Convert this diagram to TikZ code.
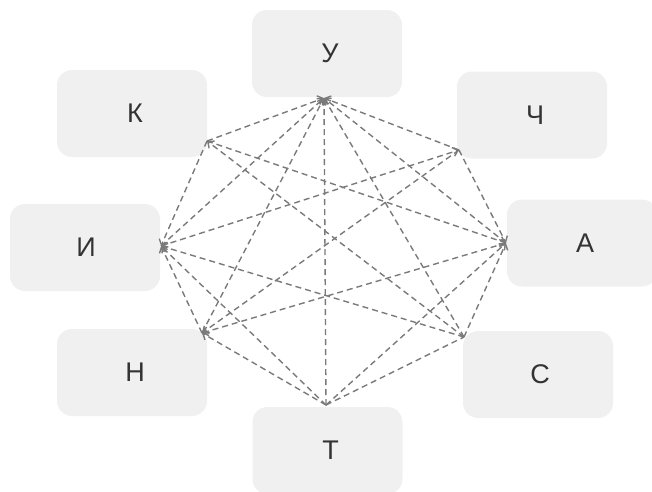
\documentclass[tikz,border=0pt]{standalone}
\usepackage{fontspec}
\setmainfont{Liberation Sans}
\usetikzlibrary{arrows.meta}
\definecolor{boxfill}{HTML}{F0F0F0}
\definecolor{edgecol}{HTML}{7A7A7A}
\definecolor{txt}{HTML}{333333}
\begin{document}
\begin{tikzpicture}[x=1pt,y=-1pt,
  box/.style={fill=boxfill, rounded corners=15pt, minimum width=150pt, minimum height=87pt, inner sep=0pt, text=txt, font=\fontsize{27}{27}\selectfont},
  plain/.style={draw=edgecol, line width=1.4pt, dash pattern=on 6pt off 4pt},
  edge/.style={plain, -{Straight Barb[length=5pt,width=9pt]}}]
\useasboundingbox (0,0) rectangle (652,491);
\node[box] (U) at (327,53.5) {\hspace*{6pt}У};
\node[box] (K) at (132,113.5) {\hspace*{6pt}К};
\node[box] (Ch) at (532,115) {\hspace*{6pt}Ч};
\node[box] (I) at (85,247.5) {\hspace*{2pt}И};
\node[box] (A) at (582,243) {\hspace*{6pt}А};
\node[box] (N) at (132,372.5) {\hspace*{6pt}Н};
\node[box] (S) at (538,374.5) {\hspace*{4pt}С};
\node[box] (T) at (327.5,450.5) {\hspace*{6pt}Т};
\coordinate (aU) at (324,98);
\coordinate (aK) at (207,141);
\coordinate (aCh) at (459,150);
\coordinate (aI) at (161,246);
\coordinate (aA) at (506,243);
\coordinate (aN) at (202,333);
\coordinate (aS) at (464,337);
\coordinate (aT) at (326,405);
% into U
\draw[edge] (aK) -- (aU);
\draw[edge] (aCh) -- (aU);
\draw[edge] (aA) -- (aU);
\draw[edge] (aS) -- (aU);
\draw[edge] (aT) -- (aU);
\draw[edge] (aN) -- (aU);
\draw[edge] (aI) -- (aU);
% K
\draw[edge] (aS) -- (aK);
\draw[edge] (aK) -- (aA);
\draw[edge] (aK) -- (aI);
% Ch
\draw[edge] (aI) -- (aCh);
\draw[edge] (aCh) -- (aN);
\draw[edge] (aCh) -- (aA);
% I
\draw[edge] (aN) -- (aI);
\draw[edge] (aS) -- (aI);
\draw[edge] (aT) -- (aI);
% A
\draw[edge] (aS) -- (aA);
\draw[edge] (aA) -- (aN);
\draw[edge] (aT) -- (aA);
% N, T, S
\draw[edge] (aT) -- (aN);
\draw[plain] (aT) -- (aS);
\end{tikzpicture}
\end{document}
